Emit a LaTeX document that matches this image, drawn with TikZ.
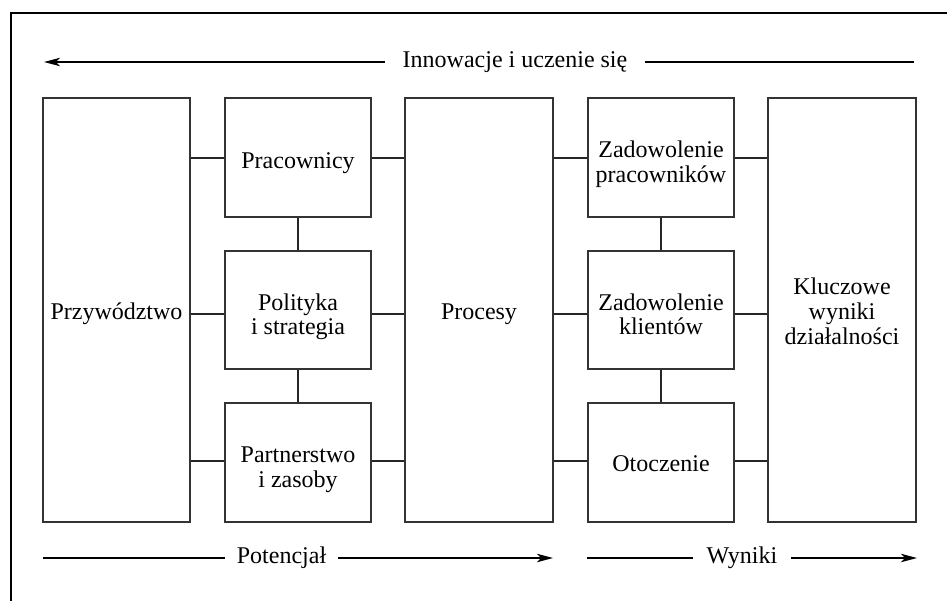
\documentclass[tikz,border=0pt]{standalone}
\usepackage{fontspec}
\setmainfont{Liberation Serif}
\usetikzlibrary{arrows.meta}
% centred stack of lines, set on the last baseline and lowered a little
\newcommand\btext[2][0.6pt]{%
  \raisebox{-#1}[\height][0pt]{\begin{tabular}[b]{@{}c@{}}#2\end{tabular}}}
\tikzset{
  block/.style={draw=black!80, line width=0.9pt, inner sep=0pt,
                font=\fontsize{12pt}{12.3pt}\selectfont},
  link/.style={draw=black!85, line width=0.9pt},
  flow/.style={draw=black, line width=0.8pt},
  flowtip/.style={flow, -{Stealth[length=8pt,width=4.2pt,inset=2pt]}},
  caption/.style={inner ysep=0pt, font=\fontsize{12pt}{14pt}\selectfont},
  frame/.style={draw=black, line width=1pt}
}
\begin{document}
\begin{tikzpicture}[x=0.5pt,y=-0.5pt]
  \useasboundingbox (0,0) rectangle (947,600);
  \clip (0,0) rectangle (947,600);
  \fill[white] (0,0) rectangle (947,600);

  % page frame
  \draw[frame] (10.7,620) -- (10.7,12.5) -- (960,12.5);

  % top flow: innovation and learning
  \node[caption, inner xsep=8.5pt] (innov) at (515,62) {Innowacje i uczenie się};
  \coordinate (innovL) at (44,62);
  \coordinate (innovR) at (914,62);
  \draw[flowtip] (innov.west) -- (innovL);
  \draw[flow] (innov.east) -- (innovR);

  % enablers
  \node[block, minimum width=73.5pt, minimum height=212pt] (prz) at (116.5,310) {\btext[0.4pt]{Przywództwo}};
  \node[block, minimum width=73pt, minimum height=59.5pt] (prac) at (298,157.5) {\btext[1pt]{Pracownicy}};
  \node[block, minimum width=73pt, minimum height=59pt] (pol) at (298,310) {\btext[2pt]{Polityka\\i strategia}};
  \node[block, minimum width=73pt, minimum height=59.5pt] (part) at (298,462.5) {\btext[2pt]{Partnerstwo\\i zasoby}};
  \node[block, minimum width=74pt, minimum height=212pt] (proc) at (479,310) {\btext[0.4pt]{Procesy}};

  % results
  \node[block, minimum width=73pt, minimum height=59.5pt] (zp) at (661,157.5) {\btext[2pt]{Zadowolenie\\pracowników}};
  \node[block, minimum width=73pt, minimum height=59pt] (zk) at (661,310) {\btext[2pt]{Zadowolenie\\klientów}};
  \node[block, minimum width=73pt, minimum height=59.5pt] (oto) at (661,462.5) {\btext[0.4pt]{Otoczenie}};
  \node[block, minimum width=74pt, minimum height=212pt] (kw) at (842,310)
    {\btext[0.6pt]{Kluczowe\\[0.2pt]wyniki\\[0.2pt]działalności}};

  % connector rows
  \coordinate (r1) at (0,158);
  \coordinate (r2) at (0,314);
  \coordinate (r3) at (0,461);

  \draw[link] (prz.east |- r1) -- (prac.west |- r1);
  \draw[link] (prz.east |- r2) -- (pol.west |- r2);
  \draw[link] (prz.east |- r3) -- (part.west |- r3);
  \draw[link] (prac.east |- r1) -- (proc.west |- r1);
  \draw[link] (pol.east |- r2) -- (proc.west |- r2);
  \draw[link] (part.east |- r3) -- (proc.west |- r3);
  \draw[link] (proc.east |- r1) -- (zp.west |- r1);
  \draw[link] (proc.east |- r2) -- (zk.west |- r2);
  \draw[link] (proc.east |- r3) -- (oto.west |- r3);
  \draw[link] (zp.east |- r1) -- (kw.west |- r1);
  \draw[link] (zk.east |- r2) -- (kw.west |- r2);
  \draw[link] (oto.east |- r3) -- (kw.west |- r3);

  \draw[link] (prac.south) -- (pol.north);
  \draw[link] (pol.south) -- (part.north);
  \draw[link] (zp.south) -- (zk.north);
  \draw[link] (zk.south) -- (oto.north);

  % bottom flows
  \node[caption, inner xsep=5.5pt] (pot) at (281.5,558) {Potencjał};
  \coordinate (potL) at (43,558);
  \coordinate (potR) at (553,558);
  \draw[flow] (potL) -- (pot.west);
  \draw[flowtip] (pot.east) -- (potR);

  \node[caption, inner xsep=6.5pt] (wyn) at (742,558) {Wyniki};
  \coordinate (wynL) at (587,558);
  \coordinate (wynR) at (917,558);
  \draw[flow] (wynL) -- (wyn.west);
  \draw[flowtip] (wyn.east) -- (wynR);
\end{tikzpicture}
\end{document}
